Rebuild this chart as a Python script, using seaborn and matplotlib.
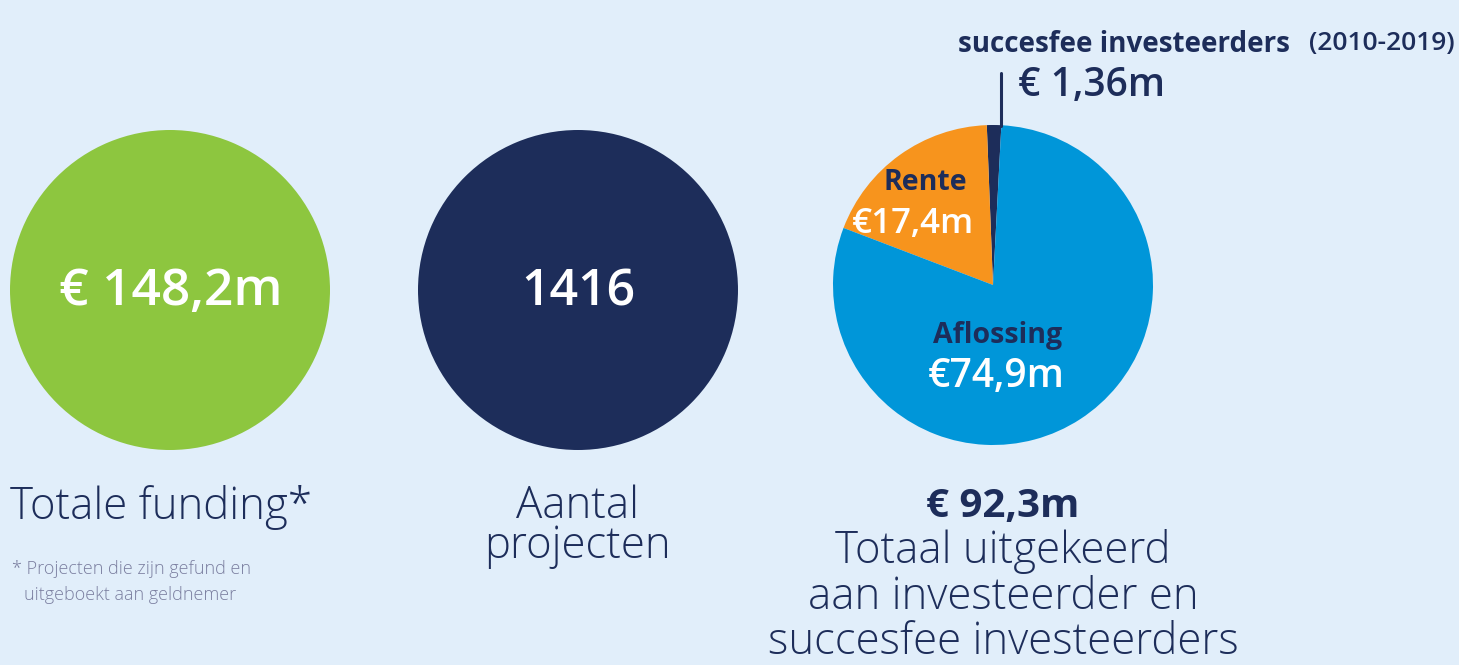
import matplotlib
matplotlib.use("Agg")
import matplotlib.pyplot as plt
import seaborn as sns

# --- data ---
funding_total = "€ 148,2m"
project_count = "1416"
pie_labels = ["succesfee investeerders", "Rente", "Aflossing"]
pie_values = [1.36, 17.4, 74.9]
pie_value_text = ["€ 1,36m", "€17,4m", "€74,9m"]
paid_total = "€ 92,3m"

# --- colours ---
bg = "#e1eefa"
navy = "#1d2d5a"
green = "#8dc63f"
blue = "#0096d9"
orange = "#f7941d"
grey = "#7b7fa0"

sns.set_theme(style="white")
plt.rcParams["font.family"] = ["Open Sans", "DejaVu Sans"]

W, H = 1459, 665
fig = plt.figure(figsize=(W / 100, H / 100), dpi=100, facecolor=bg)
ax = fig.add_axes([0, 0, 1, 1])
ax.set_facecolor(bg)

def Y(y):
    return H - y

# green circle: total funding
ax.pie([1], colors=[green], radius=160, center=(170, Y(290)),
       wedgeprops=dict(linewidth=0))
# navy circle: project count
ax.pie([1], colors=[navy], radius=160, center=(578, Y(290)),
       wedgeprops=dict(linewidth=0))
# pie: paid out
ax.pie(pie_values, colors=[navy, orange, blue], radius=160,
       center=(993, Y(285)), startangle=87, counterclock=True,
       wedgeprops=dict(linewidth=0))

# pie() resets the view, so fix the canvas afterwards
ax.set_xlim(0, W)
ax.set_ylim(0, H)
ax.set_aspect("equal")
ax.axis("off")

ax.text(171, Y(292), funding_total, color="white", fontsize=37,
        fontweight="semibold", ha="center", va="center")
ax.text(578, Y(292), project_count, color="white", fontsize=36,
        fontweight="semibold", ha="center", va="center")

ax.text(925, Y(183), pie_labels[1], color=navy, fontsize=20.5,
        fontweight="bold", ha="center", va="center")
ax.text(913, Y(224), pie_value_text[1], color="white", fontsize=25,
        fontweight="semibold", ha="center", va="center")
ax.text(998, Y(335), pie_labels[2], color=navy, fontsize=20.5,
        fontweight="bold", ha="center", va="center")
ax.text(996, Y(377), pie_value_text[2], color="white", fontsize=28,
        fontweight="semibold", ha="center", va="center")

# callout for succesfee
ax.plot([1001, 1001], [Y(73), Y(126)], color=navy, lw=2.2)
ax.text(958, Y(44), pie_labels[0], color=navy, fontsize=20,
        fontweight="bold", ha="left", va="center")
ax.text(1455, Y(44), "(2010-2019)", color=navy, fontsize=19,
        fontweight="semibold", ha="right", va="center")
ax.text(1018, Y(86), pie_value_text[0], color=navy, fontsize=28,
        fontweight="semibold", ha="left", va="center")

# captions
ax.text(10, Y(507), "Totale funding*", color=navy, fontsize=31.5,
        fontweight="light", ha="left", va="center")
ax.text(12, Y(569), "* Projecten die zijn gefund en", color=grey,
        fontsize=13, fontweight="light", ha="left", va="center")
ax.text(24, Y(595), "uitgeboekt aan geldnemer", color=grey,
        fontsize=13, fontweight="light", ha="left", va="center")

ax.text(577, Y(507), "Aantal", color=navy, fontsize=31.5,
        fontweight="light", ha="center", va="center")
ax.text(577, Y(547), "projecten", color=navy, fontsize=31.5,
        fontweight="light", ha="center", va="center")

ax.text(1003, Y(507), paid_total, color=navy, fontsize=29,
        fontweight="bold", ha="center", va="center")
for yy, line in zip([552, 598, 643],
                    ["Totaal uitgekeerd", "aan investeerder en",
                     "succesfee investeerders"]):
    ax.text(1003, Y(yy), line, color=navy, fontsize=31.5,
            fontweight="light", ha="center", va="center")

fig.savefig("out.png", dpi=100, facecolor=bg)
